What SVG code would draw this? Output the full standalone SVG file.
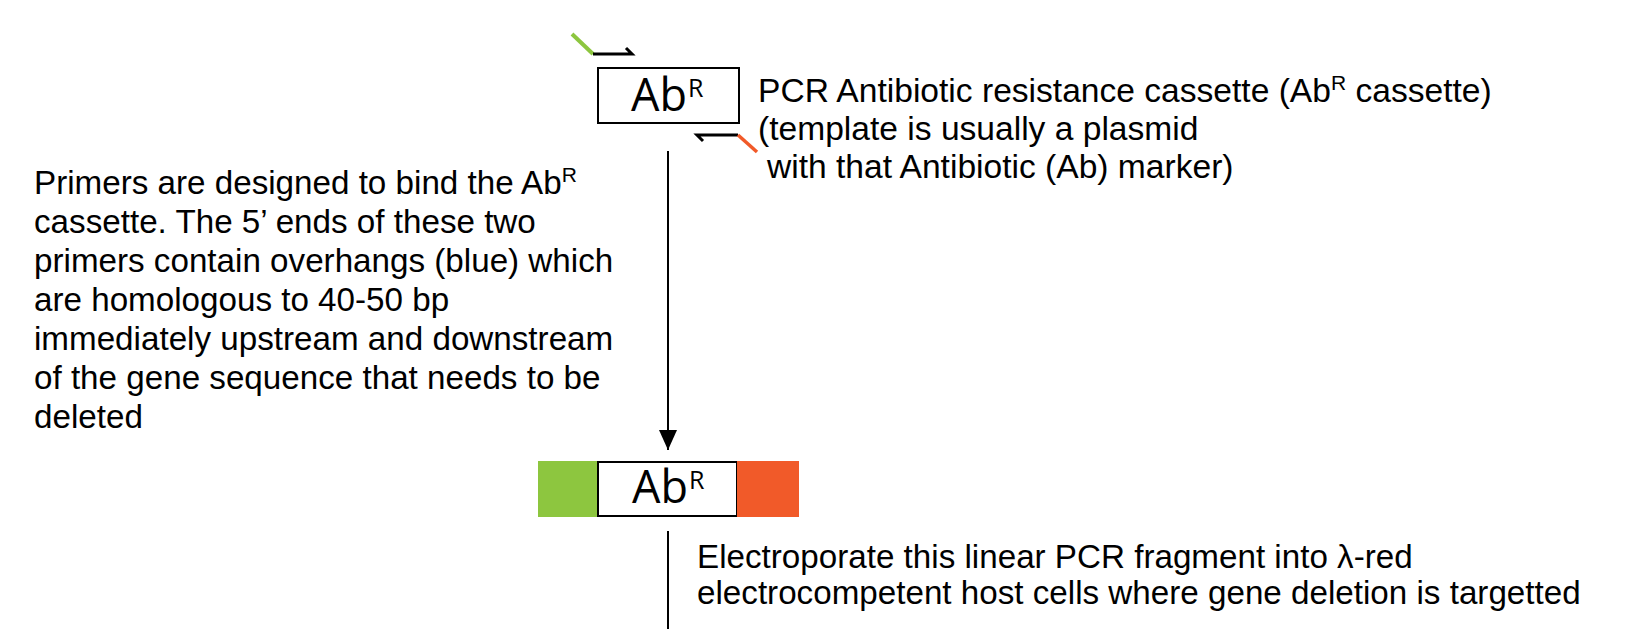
<svg xmlns="http://www.w3.org/2000/svg" width="1630" height="629" viewBox="0 0 1630 629">
<style>
text{font-family:"Liberation Sans",Arial,sans-serif;fill:#000}
.t{font-size:33.2px}
.tr{font-size:33.6px}
.big{font-family:"Open Sans","Liberation Sans",sans-serif;font-size:45px}
.sup{font-size:21px}
.bsup{font-family:"Open Sans","Liberation Sans",sans-serif;font-size:25px}
.ln{stroke:#000;stroke-width:2;fill:none}
.pr{stroke:#000;stroke-width:3;fill:none;stroke-linecap:butt}
.g{stroke:#8DC63F;stroke-width:4}
.o{stroke:#F15A29;stroke-width:3.5}
</style>
<defs>
<marker id="ah" viewBox="0 0 20 18" refX="20" refY="9" markerWidth="20" markerHeight="18" markerUnits="userSpaceOnUse" orient="auto">
<path d="M0,0 L20,9 L0,18 Z" fill="#000"/>
</marker>
</defs>
<rect width="1630" height="629" fill="#fff"/>
<g id="connectors">
<line class="ln" x1="668" y1="151" x2="668" y2="450" marker-end="url(#ah)"/>
<line class="ln" x1="668" y1="531" x2="668" y2="629"/>
</g>
<g id="template">
<line class="g" x1="572" y1="34" x2="593" y2="54"/>
<polyline class="pr" points="593,54 632,54 626,48"/>
<rect x="598" y="68" width="141" height="55" fill="#fff" stroke="#000" stroke-width="2"/>
<text x="631" y="111" class="big">Ab<tspan class="bsup" dx="1" dy="-14">R</tspan></text>
<polyline class="pr" points="738,135 697,135 703,141"/>
<line class="o" x1="738" y1="135" x2="757" y2="152"/>
</g>
<g id="pcr-label">
<text class="tr" x="758" y="102">PCR Antibiotic resistance cassette (Ab<tspan class="sup" dy="-12">R</tspan><tspan dy="12"> cassette)</tspan></text>
<text class="tr" x="758" y="140">(template is usually a plasmid</text>
<text class="tr" x="767" y="178">with that Antibiotic (Ab) marker)</text>
</g>
<g id="primer-note">
<text class="t" x="34" y="194">Primers are designed to bind the Ab<tspan class="sup" dy="-12">R</tspan></text>
<text class="t" x="34" y="233">cassette. The 5’ ends of these two</text>
<text class="t" x="34" y="272">primers contain overhangs (blue) which</text>
<text class="t" x="34" y="311">are homologous to 40-50 bp</text>
<text class="t" x="34" y="350">immediately upstream and downstream</text>
<text class="t" x="34" y="389">of the gene sequence that needs to be</text>
<text class="t" x="34" y="428">deleted</text>
</g>
<g id="fragment">
<rect x="538" y="461" width="60" height="56" fill="#8DC63F"/>
<rect x="598" y="462" width="139" height="54" fill="#fff" stroke="#000" stroke-width="2"/>
<rect x="737" y="461" width="62" height="56" fill="#F15A29"/>
<text x="632" y="503" class="big">Ab<tspan class="bsup" dx="1" dy="-14">R</tspan></text>
</g>
<g id="electroporate-note">
<text class="t" x="697" y="568">Electroporate this linear PCR fragment into λ-red</text>
<text class="t" x="697" y="604">electrocompetent host cells where gene deletion is targetted</text>
</g>
</svg>
